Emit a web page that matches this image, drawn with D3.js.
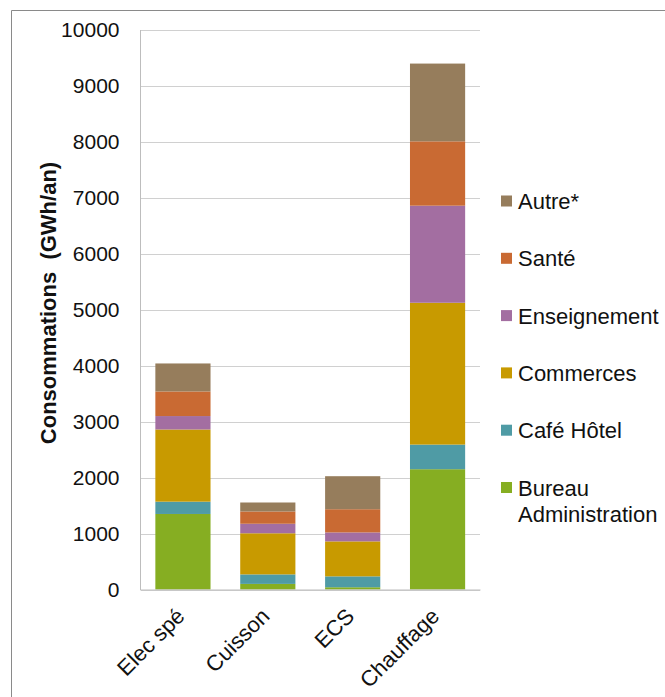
<!DOCTYPE html>
<html><head><meta charset="utf-8">
<script src="https://cdn.jsdelivr.net/npm/d3@7"></script>
<style>body{margin:0;background:#fff;}svg{display:block;}text{font-family:"Liberation Sans",Arial,sans-serif;fill:#111;}</style>
</head><body>
<svg id="c" width="665" height="697"></svg>
<script>
const categories = ["Elec spé","Cuisson","ECS","Chauffage"];
const seriesNames = ["Bureau Administration","Café Hôtel","Commerces","Enseignement","Santé","Autre*"];
const bureau = [1350,100,40,2150];
const cafeHotel = [220,170,195,440];
const commerces = [1290,735,625,2535];
const enseignement = [240,170,160,1735];
const sante = [440,220,415,1150];
const autre = [500,160,590,1390];
const yTicks = [0,1000,2000,3000,4000,5000,6000,7000,8000,9000,10000];
const colors = ["#86AE22","#4F9BA5","#C89A00","#A36EA1","#C96A33","#967D5C"];
const legendLines = [["Autre*"],["Santé"],["Enseignement"],["Commerces"],["Café Hôtel"],["Bureau","Administration"]];

const seriesValues = [bureau,cafeHotel,commerces,enseignement,sante,autre];
const table = categories.map((c,i)=>{const o={cat:c}; seriesNames.forEach((s,j)=>o[s]=seriesValues[j][i]); return o;});
const stack = d3.stack().keys(seriesNames)(table);

const svg = d3.select("#c");
// outer frame
svg.append("path").attr("d","M11.5,697 L11.5,10.5 L665,10.5").attr("fill","none").attr("stroke","#8a8a8a").attr("stroke-width",1);

const L=140.5, R=480, T=30, B=589.5;
const x = d3.scaleBand().domain(categories).range([L,R]).paddingInner(0.35).paddingOuter(0.175);
const y = d3.scaleLinear().domain([0,10000]).range([B,T]);

// gridlines
svg.append("g").selectAll("line").data(yTicks).join("line")
  .attr("x1",L).attr("x2",R).attr("y1",d=>Math.round(y(d))+0.5).attr("y2",d=>Math.round(y(d))+0.5)
  .attr("stroke","#d0d0d0").attr("stroke-width",1);
// axis line
svg.append("line").attr("x1",L).attr("x2",L).attr("y1",T).attr("y2",B+0.5).attr("stroke","#bdbdbd");

const yAxis = d3.axisLeft(y).tickValues(yTicks).tickSize(0).tickPadding(21).tickFormat(d3.format("d"));
const gy = svg.append("g").attr("transform",`translate(${L},0)`).call(yAxis);
gy.select(".domain").remove();
gy.selectAll("text").style("font-size","21px").style("font-family","'Liberation Sans',Arial,sans-serif").attr("fill","#111");

// bars
svg.append("g").selectAll("g").data(stack).join("g").attr("fill",(d,i)=>colors[i])
  .selectAll("rect").data(d=>d).join("rect")
  .attr("x",d=>x(d.data.cat)).attr("width",x.bandwidth())
  .attr("y",d=>y(d[1])).attr("height",d=>y(d[0])-y(d[1]));

// x axis
const xAxis = d3.axisBottom(x).tickSize(0).tickPadding(0);
const gx = svg.append("g").attr("transform",`translate(0,${B})`).call(xAxis);
gx.select(".domain").attr("stroke","#bdbdbd");
gx.selectAll("text").style("font-size","22px").style("font-family","'Liberation Sans',Arial,sans-serif").attr("fill","#111")
  .attr("text-anchor","end").attr("dy",null).attr("y",0)
  .attr("transform","translate(3,28) rotate(-45)");

// y title
svg.append("text").attr("transform","translate(56,303) rotate(-90)").attr("text-anchor","middle")
  .style("font-size","22px").style("font-weight","bold").style("white-space","pre").text("Consommations  (GWh/an)");

// legend
const lg = svg.append("g");
const ly0 = 201, lstep = 57.3;
legendLines.forEach((lines,i)=>{
  const cy = ly0 + i*lstep;
  lg.append("rect").attr("x",501).attr("y",cy-5.5).attr("width",11).attr("height",11).attr("fill",colors[5-i]);
  lines.forEach((t,k)=>{
    lg.append("text").attr("x",518).attr("y",cy+8+k*26.5).style("font-size","22px").text(t);
  });
});
</script>
</body></html>
